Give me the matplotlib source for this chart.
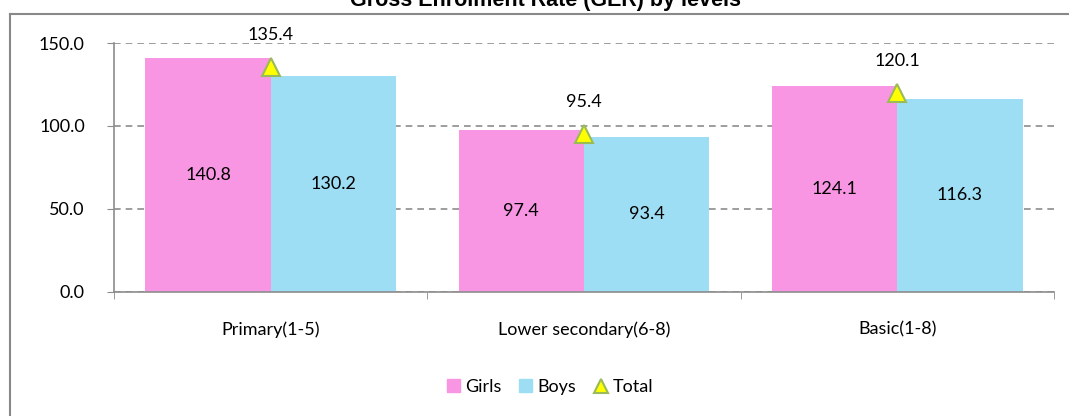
import numpy as np
import matplotlib.pyplot as plt
from matplotlib.lines import Line2D
from matplotlib.patches import Patch

# Data
levels = ['Primary(1-5)', 'Lower secondary(6-8)', 'Basic(1-8)']
girls = [140.8, 97.4, 124.1]
boys = [130.2, 93.4, 116.3]
total = [135.4, 95.4, 120.1]

pink = '#F996E4'
blue = '#9EDEF4'
grid_gray = '#8C8C8C'
fs = 13

plt.rcParams['font.family'] = ['Lato', 'DejaVu Sans']

fig = plt.figure(figsize=(10.69, 4.16), dpi=100)
ax = fig.add_axes([114 / 1069, 1 - 292 / 416, (1054 - 114) / 1069, (292 - 43) / 416])

x = np.arange(len(levels))
w = 0.4
ax.bar(x - w / 2, girls, width=w, color=pink, zorder=2)
ax.bar(x + w / 2, boys, width=w, color=blue, zorder=2)
ax.plot(x, total, linestyle='none', marker='^', markersize=13,
        markerfacecolor='#FFFF00', markeredgecolor='#9BBB59', markeredgewidth=1.5, zorder=4)

# Value labels
for i in range(len(levels)):
    ax.text(x[i] - w / 2, girls[i] / 2, f'{girls[i]:.1f}', ha='center', va='center', fontsize=fs)
    ax.text(x[i] + w / 2, boys[i] / 2, f'{boys[i]:.1f}', ha='center', va='center', fontsize=fs)
    ax.annotate(f'{total[i]:.1f}', (x[i], total[i]), xytext=(0, 23), textcoords='offset points',
                ha='center', va='center', fontsize=fs)

ax.set_xlim(-0.5, 2.5)
ax.set_ylim(0, 150)
ax.set_yticks([0, 50, 100, 150])
ax.set_yticklabels(['0.0', '50.0', '100.0', '150.0'], fontsize=fs)
ax.yaxis.grid(True, linestyle=(0, (4, 3)), color=grid_gray, linewidth=1.2, zorder=0)
ax.set_axisbelow(True)

ax.set_xticks(x)
ax.set_xticklabels(levels, fontsize=fs)
ax.set_xticks([-0.5, 0.5, 1.5, 2.5], minor=True)
ax.tick_params(axis='x', which='major', length=0, pad=21)
ax.tick_params(axis='x', which='minor', length=5, color=grid_gray, direction='out')
ax.tick_params(axis='y', length=5, color=grid_gray, direction='out', pad=16)

for s in ['top', 'right']:
    ax.spines[s].set_visible(False)
for s in ['left', 'bottom']:
    ax.spines[s].set_color(grid_gray)
    ax.spines[s].set_linewidth(1.2)

handles = [Patch(color=pink, label='Girls'), Patch(color=blue, label='Boys'),
           Line2D([], [], linestyle='none', marker='^', markersize=10, markerfacecolor='#FFFF00',
                  markeredgecolor='#9BBB59', markeredgewidth=1.5, label='Total')]
fig.legend(handles=handles, loc='center', bbox_to_anchor=(550 / 1069, 1 - 387 / 416), ncol=3,
           frameon=False, fontsize=fs, handlelength=0.7, handleheight=0.7,
           handletextpad=0.3, columnspacing=1.0)

# Chart frame (cropped on right and bottom)
fig.add_artist(Line2D([10 / 1069, 1.0], [1 - 14 / 416, 1 - 14 / 416], transform=fig.transFigure,
                      color='#888888', linewidth=1.5))
fig.add_artist(Line2D([10 / 1069, 10 / 1069], [1 - 14 / 416, 0.0], transform=fig.transFigure,
                      color='#888888', linewidth=1.5))

fig.text(545 / 1069, 1 - 6 / 416, 'Gross Enrolment Rate (GER) by levels', ha='center', va='baseline',
         fontsize=15.5, fontweight='bold', family=['Liberation Sans', 'DejaVu Sans'])

fig.savefig('out.png', dpi=100)
